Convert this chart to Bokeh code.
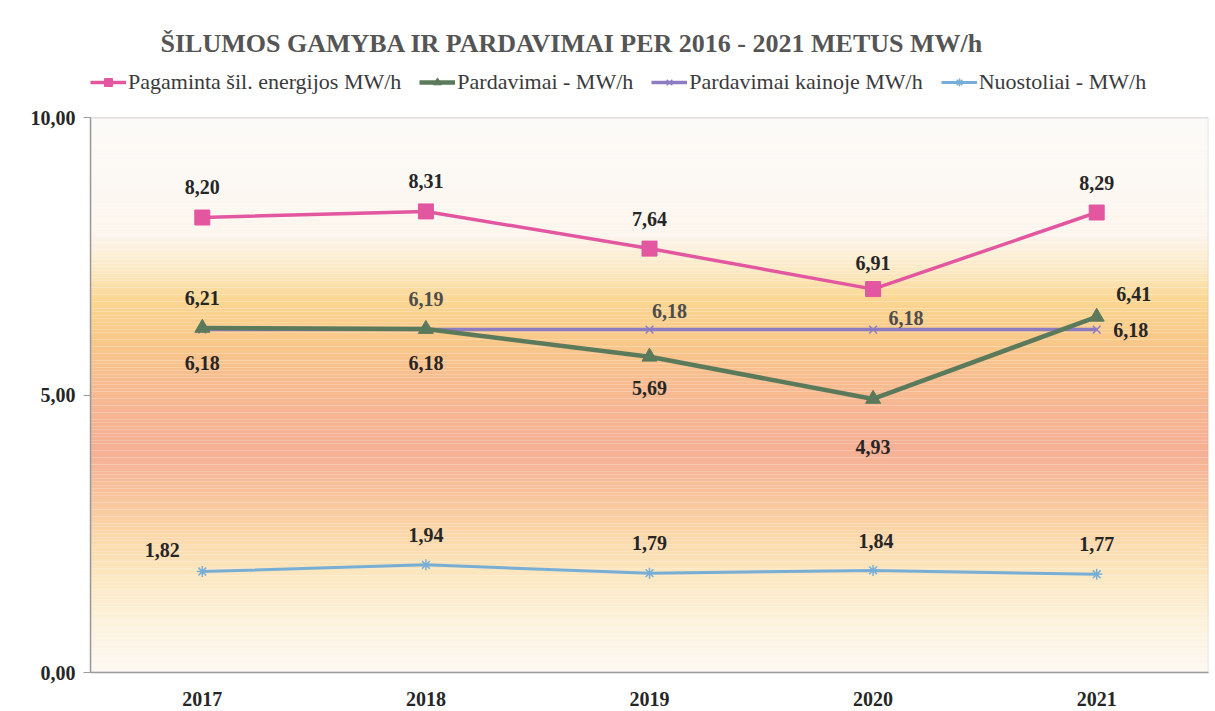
import numpy as np
from bokeh.plotting import figure
from bokeh.models import (ColumnDataSource, Range1d, FixedTicker, Legend, LegendItem, Title, BoxAnnotation)
from bokeh.core.properties import value
from bokeh.embed import file_html
from bokeh.resources import INLINE

# ---- data ----
years = ["2017", "2018", "2019", "2020", "2021"]
pagaminta = [8.20, 8.31, 7.64, 6.91, 8.29]
pardavimai = [6.21, 6.19, 5.69, 4.93, 6.41]
pardavimai_kainoje = [6.18, 6.18, 6.18, 6.18, 6.18]
nuostoliai = [1.82, 1.94, 1.79, 1.84, 1.77]
y_ticks = [0, 5, 10]
y_min, y_max = 0, 10

series_names = ["Pagaminta šil. energijos MW/h", "Pardavimai - MW/h",
                "Pardavimai kainoje MW/h", "Nuostoliai - MW/h"]

FONT = "Liberation Serif"
xs = list(range(len(years)))
x_lo, x_hi = -0.5, len(years) - 0.5

# frame extends above the value range to host the legend
p = figure(width=1215, height=711, output_backend="svg", toolbar_location=None,
           x_range=Range1d(x_lo, x_hi), y_range=Range1d(y_min, 11.03),
           min_border_left=90, min_border_right=7, min_border_top=60, min_border_bottom=39,
           background_fill_color="white", border_fill_color="white")
p.xgrid.visible = False
p.ygrid.visible = False
p.outline_line_color = None

# ---- background gradient (style only) ----
stops_v = [0.0, 0.95, 1.85, 2.55, 3.3, 4.0, 4.9, 6.0, 6.7, 7.3, 7.9, 10.0]
stops_c = ["#fcf9f3", "#fdf2dc", "#fce6bd", "#fbd6a8", "#f8c19c", "#f6b095",
           "#f7b893", "#f9c98a", "#fbd792", "#fcebc8", "#fcf6ee", "#fdfbf9"]
def hx(c):
    return np.array([int(c[i:i + 2], 16) for i in (1, 3, 5)], dtype=float)
rgb = np.array([hx(c) for c in stops_c])
edges = np.linspace(y_min, y_max, 161)
mids = (edges[:-1] + edges[1:]) / 2
cols = []
for m in mids:
    r = np.interp(m, stops_v, rgb[:, 0]); g = np.interp(m, stops_v, rgb[:, 1]); b = np.interp(m, stops_v, rgb[:, 2])
    cols.append("#%02x%02x%02x" % (int(r), int(g), int(b)))
p.quad(left=x_lo, right=x_hi, bottom=edges[:-1], top=edges[1:],
       fill_color=cols, line_color=None)

# plot-area border
p.add_layout(BoxAnnotation(left=x_lo, right=x_hi, bottom=y_min, top=y_max,
                           fill_alpha=0, line_color="#9a9a9a", line_width=1.5))

# ---- series ----
pink, green, purple, blue = "#e2579f", "#5b7a5b", "#8e7cc3", "#77aed6"

l1 = p.line(xs, pagaminta, line_color=pink, line_width=3.5)
s1 = p.scatter(xs, pagaminta, marker="square", size=15, fill_color=pink, line_color=pink)
l3 = p.line(xs, pardavimai_kainoje, line_color=purple, line_width=3.5)
s3 = p.scatter(xs, pardavimai_kainoje, marker="x", size=11, line_color=purple, line_width=1.5)
l2 = p.line(xs, pardavimai, line_color=green, line_width=4.5)
s2 = p.scatter(xs, pardavimai, marker="triangle", size=15, fill_color=green, line_color=green)
l4 = p.line(xs, nuostoliai, line_color=blue, line_width=3)
s4 = p.scatter(xs, nuostoliai, marker="asterisk", size=11, line_color=blue, line_width=1.5)

# ---- data labels ----
def fmt(v):
    return f"{v:.2f}".replace(".", ",")

lab_x, lab_y, lab_t, lab_dx, lab_dy, lab_c = [], [], [], [], [], []
def add(vals, dxs, dys, colors):
    for i, v in enumerate(vals):
        lab_x.append(xs[i]); lab_y.append(v); lab_t.append(fmt(v))
        lab_dx.append(dxs[i]); lab_dy.append(dys[i]); lab_c.append(colors[i])

dark = "#262626"
grey = "#4d4d4d"
add(pagaminta, [0, 0, 0, 0, 0], [-31, -30, -30, -26, -30], [dark] * 5)
add(pardavimai, [0, 0, 0, 0, 37], [-30, -30, 31, 48, -23], [dark, grey, dark, dark, dark])
add(pardavimai_kainoje, [0, 0, 20, 33, 34], [33, 33, -19, -12, 0], [dark, dark, grey, grey, dark])
add(nuostoliai, [-40, 0, 0, 3, 0], [-22, -30, -30, -29, -30], [dark] * 5)

src = ColumnDataSource(dict(x=lab_x, y=lab_y, t=lab_t, dx=lab_dx, dy=lab_dy, c=lab_c))
p.text(x="x", y="y", text="t", x_offset="dx", y_offset="dy", source=src,
       text_color="c", text_font=value(FONT), text_font_size="20px",
       text_font_style="bold", text_align="center", text_baseline="middle")

# ---- axes ----
p.yaxis.ticker = FixedTicker(ticks=y_ticks)
p.yaxis.bounds = (y_min, y_max)
p.yaxis.major_label_overrides = {t: f"{t:.2f}".replace(".", ",") for t in y_ticks}
p.xaxis.ticker = FixedTicker(ticks=xs)
p.xaxis.major_label_overrides = {i: y for i, y in enumerate(years)}
for ax in (p.xaxis[0], p.yaxis[0]):
    ax.axis_line_color = "#9a9a9a"
    ax.axis_line_width = 1.5
    ax.major_label_text_font = FONT
    ax.major_label_text_font_size = "20px"
    ax.major_label_text_font_style = "bold"
    ax.major_label_text_color = "#262626"
    ax.minor_tick_line_color = None
p.xaxis.major_tick_line_color = None
p.xaxis.major_label_standoff = 13
p.yaxis.major_tick_line_color = "#9a9a9a"
p.yaxis.major_tick_out = 7
p.yaxis.major_tick_in = 0
p.yaxis.major_label_standoff = 8

# ---- legend (top strip of the frame, above the plot box) ----
legend = Legend(items=[
    LegendItem(label=series_names[0], renderers=[l1, s1]),
    LegendItem(label=series_names[1], renderers=[l2, s2]),
    LegendItem(label=series_names[2], renderers=[l3, s3]),
    LegendItem(label=series_names[3], renderers=[l4, s4]),
], orientation="horizontal", location=(0, 577))
legend.label_text_font = FONT
legend.label_text_font_size = "22px"
legend.label_text_color = "#3a3a3a"
legend.label_height = 22
legend.glyph_width = 36
legend.glyph_height = 20
legend.label_standoff = 2
legend.spacing = 18
legend.padding = 0
legend.margin = 0
legend.border_line_color = None
legend.background_fill_alpha = 0
p.add_layout(legend, "center")

p.title = Title(text="ŠILUMOS GAMYBA IR PARDAVIMAI  PER  2016 - 2021   METUS MW/h",
                text_font=FONT, text_font_size="26px", text_font_style="bold",
                text_color="#555555", align="left", offset=70, standoff=5)

open("out.html", "w").write(file_html(p, INLINE))
